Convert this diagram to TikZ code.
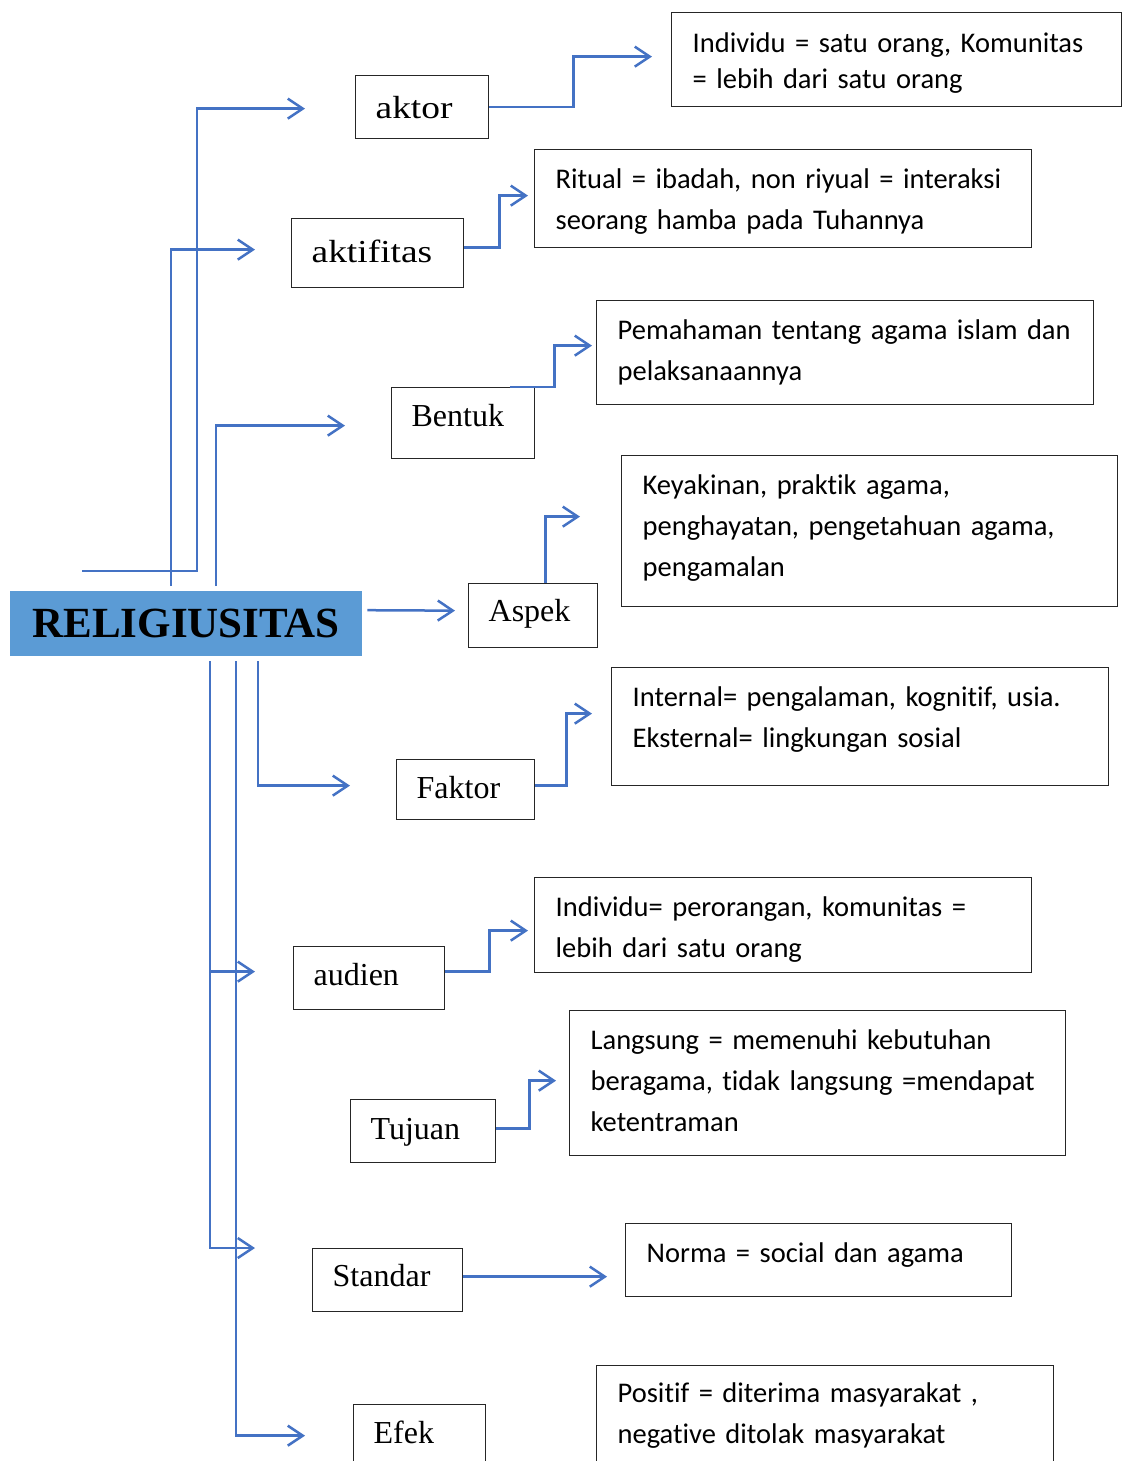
\documentclass[tikz,border=0pt]{standalone}
\usepackage{fontspec}
\setmainfont{Liberation Serif}
\newfontfamily\calibri[Ligatures=NoCommon]{Carlito}
\newfontfamily\lebar[FakeStretch=1.17]{Liberation Serif}
\usetikzlibrary{arrows.meta}
\usetikzlibrary{positioning}
\tikzset{panah/.style = {draw = biru, line width = 2.5pt, -{Straight Barb[length = 15pt, width = 20pt]}}}
\definecolor{biru}{HTML}{4472C4}
\definecolor{birumuda}{HTML}{5B9BD5}

\begin{document}
\begin{tikzpicture}[x = 1pt, y = -1pt,
       kotak/.style = {draw = black!85, line width = 1.3pt, anchor = north west, inner xsep = 20pt, inner ysep = 0pt, align = left, font = \fontsize{32}{38}\selectfont},
       ket/.style = {draw = black!85, line width = 1.3pt, anchor = north west, inner xsep = 21pt, inner ysep = 0pt, align = left, font = \calibri\fontsize{28.5}{41}\selectfont}]

       \useasboundingbox (0, 0) rectangle (1130, 1461);
       \clip (0, 0) rectangle (1130, 1461);

       \node [fill = birumuda, anchor = north west, minimum width = 352pt, minimum height = 65pt, inner sep = 0pt, font = \bfseries\fontsize{43}{43}\selectfont] (rel) at (10, 591) {RELIGIUSITAS};

       \node [kotak, text width = 93pt, text height = 43pt, text depth = 20pt, font = \lebar\fontsize{32}{38}\selectfont] (aktor) at (355, 75) {aktor};
       \node [kotak, text width = 132pt, text height = 44pt, text depth = 25pt, font = \lebar\fontsize{32}{38}\selectfont] (aktifitas) at (291, 218) {aktifitas};
       \node [kotak, text width = 103pt, text height = 39pt, text depth = 32pt] (Bentuk) at (391, 387) {Bentuk};
       \node [kotak, text width = 89pt, text height = 38pt, text depth = 26pt] (Aspek) at (468, 583) {Aspek};
       \node [kotak, text width = 98pt, text height = 39pt, text depth = 21pt] (Faktor) at (396, 759) {Faktor};
       \node [kotak, text width = 111pt, text height = 39pt, text depth = 24pt] (audien) at (293, 946) {audien};
       \node [kotak, text width = 105pt, text height = 40pt, text depth = 23pt] (Tujuan) at (350, 1099) {Tujuan};
       \node [kotak, text width = 110pt, text height = 38pt, text depth = 25pt] (Standar) at (312, 1248) {Standar};
       \node [kotak, text width = 92pt, text height = 39pt, text depth = 34pt] (Efek) at (353, 1404) {Efek};

       \node [ket, text width = 408pt, text height = 40pt, text depth = 54pt, font = \calibri\fontsize{28.5}{36}\selectfont] (d1) at (671, 12) {Individu = satu orang, Komunitas\\= lebih dari satu orang};
       \node [ket, text width = 455pt, text height = 39pt, text depth = 59pt] (d2) at (534, 149) {Ritual = ibadah, non riyual = interaksi\\seorang hamba pada Tuhannya};
       \node [ket, text width = 455pt, text height = 39pt, text depth = 65pt] (d3) at (596, 300) {Pemahaman tentang agama islam dan\\pelaksanaannya};
       \node [ket, text width = 454pt, text height = 39pt, text depth = 112pt] (d4) at (621, 455) {Keyakinan, praktik agama,\\penghayatan, pengetahuan agama,\\pengamalan};
       \node [ket, text width = 455pt, text height = 39pt, text depth = 79pt] (d5) at (611, 667) {Internal= pengalaman, kognitif, usia.\\Eksternal= lingkungan sosial};
       \node [ket, text width = 455pt, text height = 39pt, text depth = 56pt] (d6) at (534, 877) {Individu= perorangan, komunitas =\\lebih dari satu orang};
       \node [ket, text width = 454pt, text height = 39pt, text depth = 106pt] (d7) at (569, 1010) {Langsung = memenuhi kebutuhan\\beragama, tidak langsung =mendapat\\ketentraman};
       \node [ket, text width = 344pt, text height = 39pt, text depth = 34pt] (d8) at (625, 1223) {Norma = social dan agama};
       \node [ket, text width = 415pt, text height = 37pt, text depth = 83pt] (d9) at (596, 1365) {Positif = diterima masyarakat ,\\negative ditolak masyarakat};

       \coordinate (a0) at ([shift = {(-104pt, 20pt)}]rel.north);
       \coordinate (a1) at ([shift = {(11pt, 20pt)}]rel.north);
       \coordinate (a2) at ([shift = {(-15pt, 5pt)}]rel.north);
       \coordinate (a3) at ([shift = {(30pt, 5pt)}]rel.north);
       \coordinate (b1) at ([shift = {(24pt, -5pt)}]rel.south);
       \coordinate (b2) at ([shift = {(50pt, -5pt)}]rel.south);
       \coordinate (b3) at ([shift = {(72pt, -5pt)}]rel.south);

       \coordinate (t-aktor) at ([shift = {(-50pt, -1.5pt)}]aktor.west);
       \coordinate (t-aktifitas) at ([shift = {(-36pt, 3.5pt)}]aktifitas.west);
       \coordinate (t-bentuk) at ([shift = {(-46pt, -2.5pt)}]Bentuk.west);
       \coordinate (t-aspek) at ([shift = {(-13pt, 5pt)}]Aspek.west);
       \coordinate (t-faktor) at ([shift = {(-46pt, 4pt)}]Faktor.west);
       \coordinate (t-audien) at ([shift = {(-38pt, 6.5pt)}]audien.west);
       \coordinate (t-standar) at ([xshift = -57pt]Standar.north west);
       \coordinate (t-efek) at ([shift = {(-48pt, 5.5pt)}]Efek.west);

       \draw [panah] (a0) -- (a1) |- (t-aktor);
       \draw [panah] (a2) |- (t-aktifitas);
       \draw [panah] (a3) |- (t-bentuk);
       \draw [panah] ([shift = {(5pt, 13.5pt)}]rel.east) -- (t-aspek);
       \draw [panah] (b3) |- (t-faktor);
       \draw [panah] (b1) |- (t-standar);
       \draw [panah] (b1 |- t-audien) -- (t-audien);
       \draw [panah] (b2) |- (t-efek);

       \coordinate (u-aktor) at ([shift = {(-19pt, 3pt)}]d1.west);
       \coordinate (u-aktifitas) at ([shift = {(-6pt, 3pt)}]d2.west);
       \coordinate (u-bentuk) at ([shift = {(-4pt, 7pt)}]d3.west);
       \coordinate (u-aspek) at ([shift = {(-41pt, 14.5pt)}]d4.west);
       \coordinate (u-faktor) at ([shift = {(-19pt, 13pt)}]d5.west);
       \coordinate (u-audien) at ([shift = {(-6pt, -5.5pt)}]d6.west);
       \coordinate (u-tujuan) at ([shift = {(-13pt, 2.5pt)}]d7.west);
       \coordinate (u-standar) at ([shift = {(-18pt, -16.5pt)}]d8.west);

       \draw [panah] (aktor.east) -- ++(84, 0) |- (u-aktor);
       \draw [panah] ([yshift = 5.5pt]aktifitas.east) -- ++(35, 0) |- (u-aktifitas);
       \draw [panah] ([xshift = -25pt]Bentuk.north east) -- ++(44, 0) |- (u-bentuk);
       \draw [panah] ([xshift = 12.5pt]Aspek.north) |- (u-aspek);
       \draw [panah] ([yshift = 4pt]Faktor.east) -- ++(31, 0) |- (u-faktor);
       \draw [panah] ([yshift = 6.5pt]audien.east) -- ++(44, 0) |- (u-audien);
       \draw [panah] ([yshift = 2.5pt]Tujuan.east) -- ++(33, 0) |- (u-tujuan);
       \draw [panah] ([yshift = 3.5pt]Standar.east) -- (u-standar);
    \end{tikzpicture}
\end{document}
